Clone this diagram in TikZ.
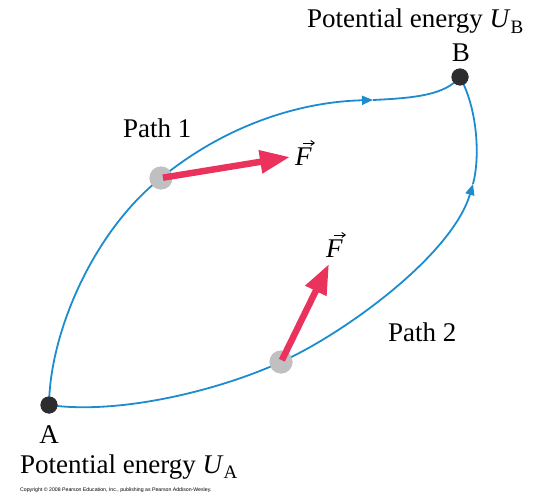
\documentclass[tikz,border=0pt]{standalone}
\usepackage{fontspec}
\setmainfont{Liberation Serif}
\newfontfamily\copyfont{Liberation Sans}
\usetikzlibrary{arrows.meta}
\definecolor{pathblue}{RGB}{28,140,208}
\definecolor{forcered}{RGB}{234,50,92}
\definecolor{dotgray}{RGB}{192,192,194}
\definecolor{dotdark}{RGB}{45,45,48}
\newcommand{\subl}[1]{\raisebox{-0.22em}{\fontsize{19}{19}\selectfont #1}}
\tikzset{
  bigtext/.style={inner sep=0pt, font=\fontsize{27}{30}\selectfont},
  pathline/.style={draw=pathblue, line width=1.8pt},
  endpt/.style={circle, fill=dotdark, minimum size=17pt, inner sep=0pt},
  particle/.style={circle, fill=dotgray, minimum size=23pt, inner sep=0pt},
  force/.style={draw=forcered, line width=6.5pt, -{Triangle[length=30pt,width=22pt]}, shorten <=2pt},
  midtip/.style={draw=pathblue, line width=1.8pt, -{Triangle[length=11pt,width=9pt]}},
  vecarrow/.style={draw=black, line width=0.9pt, -{Straight Barb[length=3.5pt,width=5pt]}},
}
\begin{document}
\begin{tikzpicture}[x=1pt,y=-1pt]
\path[use as bounding box] (0,0) rectangle (536,495);
% anchor points
\coordinate (M1) at (373,100);
\coordinate (M2) at (473,184);
\coordinate (F1) at (290,157);
\coordinate (F2) at (329,264);
% paths
\node[endpt] (A) at (49,405) {};
\node[endpt] (B) at (460,77) {};
\node[particle] (P1) at (161,178) {};
\node[particle] (P2) at (281,362) {};
\draw[midtip] (A.center) .. controls (50,330) and (95,230) .. (P1.center)
  .. controls (222,128) and (295,102) .. (M1);
\draw[pathline] (M1) .. controls (415,98) and (445,95) .. (B.center);
\draw[midtip] (A.center) .. controls (120,415) and (220,390) .. (P2.center)
  .. controls (345,333) and (452,255) .. (M2);
\draw[pathline] (M2) .. controls (480,158) and (478,110) .. (B.center);
% redraw dots on top
\node[endpt] at (A) {};
\node[endpt] at (B) {};
\node[particle] at (P1) {};
\node[particle] at (P2) {};
% forces
\draw[force] (P1.center) -- (F1);
\draw[force] (P2.center) -- (F2);
\node[bigtext, anchor=base west] (F1l) at (295,165) {\textit{F}};
\node[bigtext, anchor=base west] (F2l) at (326,257) {\textit{F}};
\draw[vecarrow] ([shift={(8,-22)}]F1l.base west) -- ++(12,0);
\draw[vecarrow] ([shift={(8,-22)}]F2l.base west) -- ++(12,0);
% labels
\node[bigtext, anchor=base] (Al) at (49,443) {A};
\node[bigtext, anchor=base] (Bl) at (461,62) {B};
\node[bigtext, anchor=base west] (UB) at (307,28) {Potential energy \textit{U}\subl{B}};
\node[bigtext, anchor=base west] (UA) at (20,473) {Potential energy \textit{U}\subl{A}};
\node[bigtext, anchor=base west] (p1) at (123,137) {Path 1};
\node[bigtext, anchor=base west] (p2) at (388,341) {Path 2};
\node[inner sep=0pt, anchor=base west, font=\copyfont\fontsize{5.2}{6}\selectfont] (copy) at (20,491) {Copyright \textcopyright\ 2008 Pearson Education, Inc., publishing as Pearson Addison-Wesley.};
\end{tikzpicture}
\end{document}
